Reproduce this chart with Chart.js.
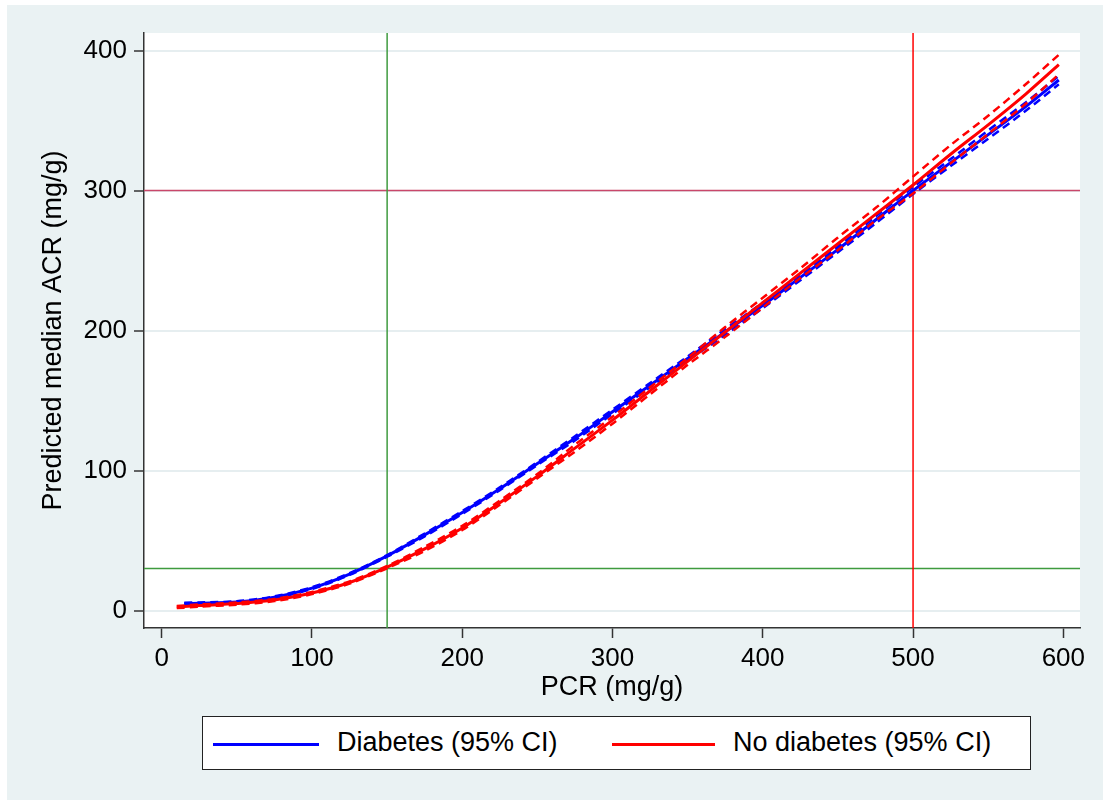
<!DOCTYPE html>
<html>
<head>
<meta charset="utf-8">
<script src="https://cdn.jsdelivr.net/npm/chart.js@4.4.1/dist/chart.umd.min.js"></script>
<style>
  html, body { margin: 0; padding: 0; background: #fff; }
  #bg { position: absolute; left: 7px; top: 5px; right: 0; bottom: 1px; background: #EAF2F3; }
  #wrap { position: absolute; left: 0; top: 0; width: 1103px; height: 801px; }
  #legend {
    position: absolute; left: 202px; top: 716px; width: 827px; height: 52px;
    background: #fff; border: 1.5px solid #222;
    font-family: "Liberation Sans", Arial, sans-serif; font-size: 27px; color: #000;
  }
  .sw { position: absolute; top: 26px; height: 3px; }
  .lab { position: absolute; top: 10px; line-height: 30px; white-space: nowrap; }
</style>
</head>
<body>
<div id="bg"></div>
<div id="wrap"><canvas id="myChart" width="1103" height="801"></canvas></div>
<div id="legend">
  <div class="sw" style="left:10px;width:106px;background:#0000FF"></div>
  <div class="lab" style="left:134px">Diabetes (95% CI)</div>
  <div class="sw" style="left:409px;width:103px;background:#FF0000"></div>
  <div class="lab" style="left:530px">No diabetes (95% CI)</div>
</div>
<script>
// PCR values (mg/g)
const diabX = [15, 25, 50, 75, 100, 125, 150, 175, 200, 225, 250, 275, 300, 325, 350, 375, 400, 425, 450, 475, 500, 525, 550, 575, 597];
const diabMean = [5, 5.2, 6, 9.5, 16, 26, 39, 54, 70, 87, 105, 123, 142, 161, 180, 199, 218, 238, 258, 279, 300, 320, 340, 360, 379];
const diabLo = [4.4, 4.6, 5.4, 8.9, 15.4, 25.4, 38.4, 53, 69, 86, 104, 121.5, 140.5, 159.5, 178.5, 197, 216, 236, 256, 276.5, 297.5, 317.5, 337, 357, 376];
const diabHi = [5.6, 5.8, 6.6, 10.1, 16.6, 26.6, 39.6, 55, 71, 88, 106, 124.5, 143.5, 162.5, 181.5, 201, 220, 240, 260, 281.5, 302.5, 322.5, 343, 363, 382];

const noX = [10, 25, 50, 75, 100, 125, 150, 175, 200, 225, 250, 275, 300, 325, 350, 375, 400, 425, 450, 475, 500, 525, 550, 575, 597];
const noMean = [2.5, 3.5, 5, 7.5, 12.5, 20, 31, 44, 59, 77, 96, 116, 136, 157, 178, 199, 220, 241, 262, 283, 304, 326, 347, 369, 390];
const noLo = [1.7, 2.7, 4.2, 6.7, 11.7, 19.2, 30.2, 42.5, 57.5, 75.5, 94.5, 113.5, 133.5, 154.5, 175.5, 195.5, 216.5, 237.5, 257.5, 278.5, 298, 319.5, 340.5, 362, 383];
const noHi = [3.3, 4.3, 5.8, 8.3, 13.3, 20.8, 31.8, 45.5, 60.5, 78.5, 97.5, 118.5, 138.5, 159.5, 180.5, 202.5, 223.5, 244.5, 266.5, 287.5, 310, 332.5, 353.5, 376, 397];

const xTicks = [0, 100, 200, 300, 400, 500, 600];
const yTicks = [0, 100, 200, 300, 400];
const xRange = [-11.8, 611.1];
const yRange = [-12.5, 412.6];

// reference lines
const refX = [150, 500];
const refXColors = ['#3F9B3F', '#FF0000'];
const refY = [30, 300];
const refYColors = ['#3F9B3F', '#C9476A'];

const pts = (xs, ys) => xs.map((x, i) => ({ x: x, y: ys[i] }));
const font = { family: '"Liberation Sans", Arial, sans-serif', size: 26 };
const titleFont = { family: '"Liberation Sans", Arial, sans-serif', size: 27 };

const datasets = [];
datasets.push({ data: pts(noX, noMean), borderColor: '#FF0000', borderWidth: 3, order: 1 });
datasets.push({ data: pts(noX, noLo), borderColor: '#FF0000', borderWidth: 2.5, borderDash: [8, 5], order: 1 });
datasets.push({ data: pts(noX, noHi), borderColor: '#FF0000', borderWidth: 2.5, borderDash: [8, 5], order: 1 });
datasets.push({ data: pts(diabX, diabMean), borderColor: '#0000FF', borderWidth: 3, order: 2 });
datasets.push({ data: pts(diabX, diabLo), borderColor: '#0000FF', borderWidth: 2.5, borderDash: [8, 5], order: 2 });
datasets.push({ data: pts(diabX, diabHi), borderColor: '#0000FF', borderWidth: 2.5, borderDash: [8, 5], order: 2 });
refX.forEach((v, i) => datasets.push({
  data: [{ x: v, y: yRange[0] }, { x: v, y: yRange[1] }], borderColor: refXColors[i], borderWidth: 1.5, order: 3, tension: 0
}));
refY.forEach((v, i) => datasets.push({
  data: [{ x: xRange[0], y: v }, { x: xRange[1], y: v }], borderColor: refYColors[i], borderWidth: 1.5, order: 3, tension: 0
}));

const plotBg = {
  id: 'plotBg',
  beforeDraw(chart) {
    const { ctx, chartArea: a } = chart;
    ctx.save();
    ctx.fillStyle = '#fff';
    ctx.fillRect(a.left, a.top, a.right - a.left, a.bottom - a.top);
    ctx.restore();
  }
};

new Chart(document.getElementById('myChart').getContext('2d'), {
  type: 'line',
  data: { datasets: datasets },
  plugins: [plotBg],
  options: {
    responsive: false,
    animation: false,
    layout: { padding: { top: 33, right: 23, bottom: 91, left: 0 } },
    elements: { point: { radius: 0 }, line: { tension: 0.3 } },
    plugins: { legend: { display: false }, tooltip: { enabled: false } },
    scales: {
      x: {
        type: 'linear', min: xRange[0], max: xRange[1],
        afterBuildTicks: s => { s.ticks = xTicks.map(v => ({ value: v })); },
        afterFit: s => { s.height = 82; },
        grid: { drawOnChartArea: false, tickLength: 10, tickColor: '#333', tickWidth: 1.5 },
        border: { color: '#333', width: 1.5 },
        ticks: { font: font, color: '#000', padding: 5, maxRotation: 0, callback: v => String(v) },
        title: { display: true, text: 'PCR (mg/g)', font: titleFont, color: '#000', padding: { top: 0, bottom: 6 } }
      },
      y: {
        type: 'linear', min: yRange[0], max: yRange[1],
        afterBuildTicks: s => { s.ticks = yTicks.map(v => ({ value: v })); },
        afterFit: s => { s.width = 144; },
        grid: { color: '#E6EEF0', lineWidth: 2, tickLength: 10, tickColor: '#333', tickWidth: 1.5 },
        border: { color: '#333', width: 1.5 },
        ticks: { font: font, color: '#000', padding: 7, callback: v => String(v) },
        title: { display: true, text: 'Predicted median ACR (mg/g)', font: titleFont, color: '#000', padding: { top: 37, bottom: 0 } }
      }
    }
  }
});
</script>
</body>
</html>
